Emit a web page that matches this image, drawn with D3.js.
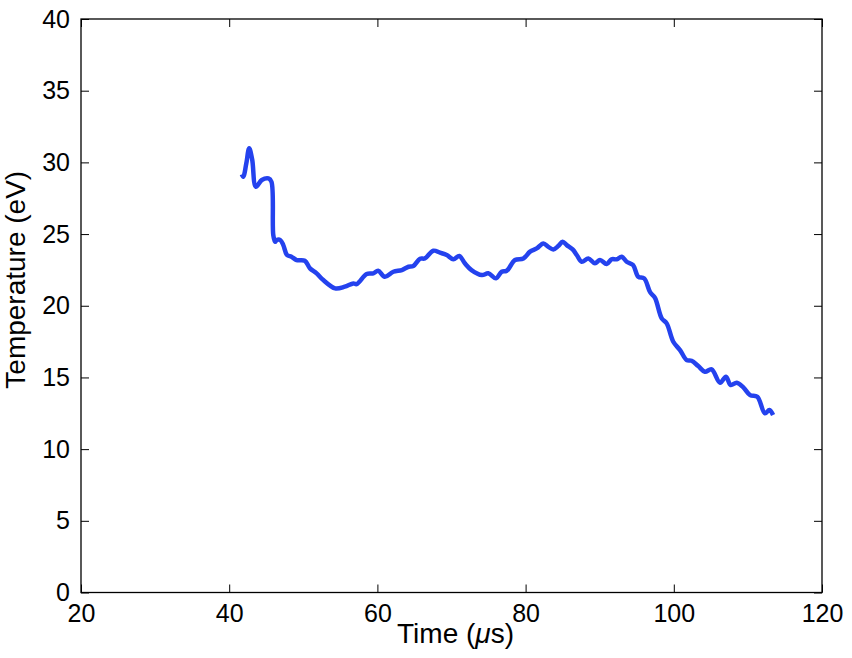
<!DOCTYPE html>
<html>
<head>
<meta charset="utf-8">
<script src="https://cdn.jsdelivr.net/npm/d3@7"></script>
<style>
    body { margin: 0; background: #fff; }
    svg text { font-family: "Liberation Sans", Arial, Helvetica, sans-serif; fill: #000; }
</style>
</head>
<body>
<div id="chart"></div>
<script>
/*
    Temperature vs time trace.
*/

// время, мкс
var times = [
    41.7, 41.9, 42.3, 42.7, 43.1, 43.6, 44.4, 45.3, 45.7, 45.95, 46.2, 46.4, 46.9, 47.3, 47.8,
    48.4, 49.1, 50.2, 50.9, 51.8, 52.7, 54.3, 55.6, 56.75, 57.2, 58.55, 59.45, 60.1, 61.0, 62.15,
    63.3, 64.2, 64.85, 65.75, 66.4, 67.55, 68.45, 69.35, 70.25, 71.06, 71.8, 72.7, 74.1, 74.96,
    76.0, 76.77, 77.45, 78.57, 79.7, 80.6, 81.5, 82.4, 83.07, 83.74, 84.4, 85.0, 85.55, 86.35,
    86.9, 87.57, 88.47, 89.36, 90.04, 90.94, 91.6, 92.3, 92.97, 93.64, 94.5, 95.2, 96.0, 96.8,
    97.46, 98.37, 99.04, 99.93, 100.84, 101.74, 102.4, 103.3, 104.2, 105.1, 106.24, 107.04,
    107.68, 108.5, 109.38, 110.3, 111.27, 112.3, 112.9, 113.4
];

// температура, эВ
var temps = [
    29.16, 29.0, 29.9, 30.98, 30.2, 28.3, 28.77, 28.88, 28.65, 24.93, 24.46, 24.58, 24.58, 24.23, 23.54,
    23.42, 23.19, 23.14, 22.61, 22.26, 21.79, 21.21, 21.33, 21.56, 21.51, 22.21, 22.26, 22.44, 22.02, 22.37,
    22.49, 22.72, 22.77, 23.28, 23.3, 23.84, 23.7, 23.54, 23.24, 23.47, 22.96, 22.49, 22.14, 22.26,
    21.91, 22.37, 22.44, 23.19, 23.3, 23.77, 24.0, 24.35, 24.11, 23.93, 24.16, 24.46, 24.23, 23.93,
    23.54, 23.07, 23.3, 22.96, 23.19, 22.91, 23.24, 23.24, 23.42, 23.07, 22.84, 22.02, 21.91, 20.95,
    20.55, 19.12, 18.77, 17.49, 16.91, 16.21, 16.16, 15.79, 15.4, 15.56, 14.63, 15.05,
    14.47, 14.63, 14.31, 13.77, 13.65, 12.5, 12.73, 12.38
];

var xTicks = [20, 40, 60, 80, 100, 120];
var yTicks = [0, 5, 10, 15, 20, 25, 30, 35, 40];

var W = 852, H = 658;
var margin = {left: 81, right: 30, top: 19, bottom: 65.5};

var svg = d3.select("#chart").append("svg")
    .attr("width", W)
    .attr("height", H);

var x = d3.scaleLinear().domain([20, 120]).range([margin.left, W - margin.right]);
var y = d3.scaleLinear().domain([0, 40]).range([H - margin.bottom, margin.top]);

var x0 = x.range()[0], x1 = x.range()[1];
var y0 = y.range()[0], y1 = y.range()[1];

///////////////////////
// Оси (тики внутрь, с обеих сторон)
///////////////////////

var tickLen = 8;

var axStyle = function(g) {
    g.select(".domain").remove();
    g.selectAll(".tick line").attr("stroke", "#000").attr("stroke-width", 1);
    g.selectAll(".tick text").attr("font-size", 25).attr("fill", "#000")
        .attr("font-family", "Liberation Sans, Arial, sans-serif");
};

svg.append("g")
    .attr("transform", "translate(0," + y0 + ")")
    .call(d3.axisBottom(x).tickValues(xTicks).tickSizeInner(-tickLen).tickSizeOuter(0).tickPadding(12))
    .call(axStyle)
    .selectAll(".tick text").attr("dy", "0.71em");

svg.append("g")
    .attr("transform", "translate(0," + y1 + ")")
    .call(d3.axisTop(x).tickValues(xTicks).tickSizeInner(-tickLen).tickSizeOuter(0).tickFormat(""))
    .call(axStyle);

svg.append("g")
    .attr("transform", "translate(" + x0 + ",0)")
    .call(d3.axisLeft(y).tickValues(yTicks).tickSizeInner(-tickLen).tickSizeOuter(0).tickPadding(11))
    .call(axStyle);

svg.append("g")
    .attr("transform", "translate(" + x1 + ",0)")
    .call(d3.axisRight(y).tickValues(yTicks).tickSizeInner(-tickLen).tickSizeOuter(0).tickFormat(""))
    .call(axStyle);

// рамка
svg.append("rect")
    .attr("x", x0)
    .attr("y", y1)
    .attr("width", x1 - x0)
    .attr("height", y0 - y1)
    .attr("fill", "none")
    .attr("stroke", "#000")
    .attr("stroke-width", 1.3);

///////////////////////
// Кривая
///////////////////////

var line = d3.line()
    .x(function(d, i) { return x(times[i]); })
    .y(function(d) { return y(d); })
    .curve(d3.curveCatmullRom.alpha(0.5));

svg.append("path")
    .datum(temps)
    .attr("d", line)
    .attr("fill", "none")
    .attr("stroke", "#2442ee")
    .attr("stroke-width", 4.5)
    .attr("stroke-linejoin", "round")
    .attr("stroke-linecap", "butt");

///////////////////////
// Подписи осей
///////////////////////

var xlab = svg.append("text")
    .attr("x", (x0 + x1) / 2 + 4)
    .attr("y", 643)
    .attr("text-anchor", "middle")
    .attr("font-size", 28);
xlab.append("tspan").text("Time (");
xlab.append("tspan").attr("font-style", "italic").text("\u03bc");
xlab.append("tspan").text("s)");

svg.append("text")
    .attr("transform", "translate(25," + ((y0 + y1) / 2 - 26) + ") rotate(-90)")
    .attr("text-anchor", "middle")
    .attr("font-size", 28)
    .text("Temperature (eV)");
</script>
</body>
</html>
